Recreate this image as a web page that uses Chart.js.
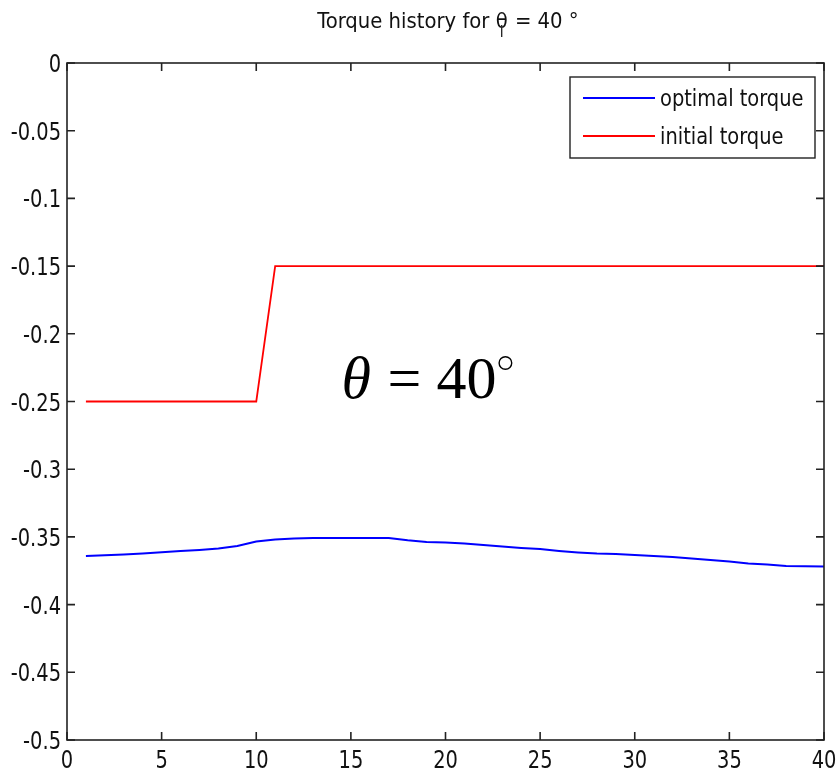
<!DOCTYPE html>
<html><head><meta charset="utf-8">
<script src="https://cdn.jsdelivr.net/npm/chart.js@4/dist/chart.umd.min.js"></script>
<style>html,body{margin:0;padding:0;background:#fff}#wrap{width:839px;height:774px}</style>
</head><body><div id="wrap"><canvas id="c" width="839" height="774"></canvas></div>
<script>
const steps = [1,2,3,4,5,6,7,8,9,10,11,12,13,14,15,16,17,18,19,20,21,22,23,24,25,26,27,28,29,30,31,32,33,34,35,36,37,38,39,40];
const optimalTorque = [-0.3641,-0.3636,-0.3630,-0.3622,-0.3614,-0.3605,-0.3596,-0.3585,-0.3567,-0.3534,-0.3520,-0.3512,-0.3508,-0.3508,-0.3508,-0.3508,-0.3508,-0.3525,-0.3538,-0.3542,-0.3549,-0.3560,-0.3571,-0.3582,-0.3590,-0.3604,-0.3615,-0.3623,-0.3626,-0.3634,-0.3641,-0.3648,-0.3660,-0.3671,-0.3682,-0.3697,-0.3704,-0.3715,-0.3717,-0.3719];
const initialTorque = [-0.25,-0.25,-0.25,-0.25,-0.25,-0.25,-0.25,-0.25,-0.25,-0.25,-0.15,-0.15,-0.15,-0.15,-0.15,-0.15,-0.15,-0.15,-0.15,-0.15,-0.15,-0.15,-0.15,-0.15,-0.15,-0.15,-0.15,-0.15,-0.15,-0.15,-0.15,-0.15,-0.15,-0.15,-0.15,-0.15,-0.15,-0.15,-0.15,-0.15];
const xTicks = [0,5,10,15,20,25,30,35,40];
const yTicks = [0,-0.05,-0.1,-0.15,-0.2,-0.25,-0.3,-0.35,-0.4,-0.45,-0.5];
const seriesNames = ['optimal torque','initial torque'];
const titleMain = 'Torque history for θ';
const titleSub = 'i';
const titleRest = ' = 40 °';
const annotation = {x: 14.5, y: -0.2474};

const FAM = '"DejaVu Sans Condensed", "DejaVu Sans", sans-serif';
function narrowText(ctx, text, x, y, size, sx, align, base) {
  ctx.save();
  ctx.font = size + 'px ' + FAM;
  ctx.textBaseline = base || 'alphabetic';
  const w = ctx.measureText(text).width * sx;
  let x0 = x;
  if (align === 'right') x0 = x - w; else if (align === 'center') x0 = x - w / 2;
  ctx.translate(x0, y);
  ctx.scale(sx, 1);
  ctx.textAlign = 'left';
  ctx.fillText(text, 0, 0);
  ctx.restore();
  return w;
}
function narrowWidth(ctx, text, size, sx) {
  ctx.save(); ctx.font = size + 'px ' + FAM;
  const w = ctx.measureText(text).width * sx; ctx.restore(); return w;
}

const matlabPlugin = {
  id: 'matlab',
  afterDraw(chart) {
    const ctx = chart.ctx, a = chart.chartArea, xs = chart.scales.x, ys = chart.scales.y;
    ctx.save();
    ctx.strokeStyle = '#222'; ctx.lineWidth = 1.6;
    ctx.strokeRect(a.left, a.top, a.right - a.left, a.bottom - a.top);
    ctx.beginPath();
    xTicks.forEach(v => { const p = xs.getPixelForValue(v);
      ctx.moveTo(p, a.bottom); ctx.lineTo(p, a.bottom - 8);
      ctx.moveTo(p, a.top); ctx.lineTo(p, a.top + 8); });
    yTicks.forEach(v => { const p = ys.getPixelForValue(v);
      ctx.moveTo(a.left, p); ctx.lineTo(a.left + 8, p);
      ctx.moveTo(a.right, p); ctx.lineTo(a.right - 8, p); });
    ctx.stroke();
    ctx.fillStyle = '#111';
    const TS = 24, TSX = 0.9;
    yTicks.forEach(v => narrowText(ctx, String(v), a.left - 6, ys.getPixelForValue(v) + 9, TS, TSX, 'right'));
    xTicks.forEach(v => narrowText(ctx, String(v), xs.getPixelForValue(v), a.bottom + 28, TS, TSX, 'center'));
    // title
    const HS = 21, HSX = 1.04;
    const wMain = narrowWidth(ctx, titleMain, HS, HSX);
    const wRest = narrowWidth(ctx, titleRest, HS, HSX);
    const cx = (a.left + a.right) / 2;
    let tx = cx - (wMain + wRest) / 2 + 2;
    narrowText(ctx, titleMain, tx, 28, HS, HSX, 'left');
    narrowText(ctx, titleSub, tx + wMain - 8, 37, 15, HSX, 'left');
    narrowText(ctx, titleRest, tx + wMain + 1, 28, HS, HSX, 'left');
    // legend
    const lx = 570, ly = 77, lw = 245, lh = 81;
    ctx.fillStyle = '#fff'; ctx.fillRect(lx, ly, lw, lh);
    ctx.strokeStyle = '#222'; ctx.lineWidth = 1.4; ctx.strokeRect(lx, ly, lw, lh);
    const colors = ['#0000ff', '#ff0000'];
    seriesNames.forEach((n, i) => {
      const yy = ly + 21 + i * 38;
      ctx.strokeStyle = colors[i]; ctx.lineWidth = 1.8;
      ctx.beginPath(); ctx.moveTo(lx + 13, yy); ctx.lineTo(lx + 85, yy); ctx.stroke();
      ctx.fillStyle = '#111'; narrowText(ctx, n, lx + 90, yy + 8, 23, 0.94, 'left');
    });
    // annotation
    const ax = xs.getPixelForValue(annotation.x), ay = ys.getPixelForValue(annotation.y);
    ctx.fillStyle = '#000'; ctx.textAlign = 'left'; ctx.textBaseline = 'alphabetic';
    ctx.font = 'italic 60px "Liberation Serif", "DejaVu Serif", serif';
    ctx.fillText('θ', ax, ay);
    ctx.font = '60px "Liberation Serif", "DejaVu Serif", serif';
    ctx.fillText('=', ax + 46, ay);
    ctx.fillText('40', ax + 95, ay);
    ctx.lineWidth = 1.4; ctx.strokeStyle = '#000';
    ctx.beginPath(); ctx.arc(ax + 164, ay - 35, 6.3, 0, Math.PI * 2); ctx.stroke();
    ctx.restore();
  }
};

new Chart(document.getElementById('c'), {
  type: 'line',
  data: {
    datasets: [
      { label: seriesNames[0], data: steps.map((s, i) => ({x: s, y: optimalTorque[i]})), borderColor: '#0000ff', borderWidth: 2, pointRadius: 0, tension: 0, fill: false },
      { label: seriesNames[1], data: steps.map((s, i) => ({x: s, y: initialTorque[i]})), borderColor: '#ff0000', borderWidth: 1.8, pointRadius: 0, tension: 0, fill: false }
    ]
  },
  options: {
    responsive: false, animation: false,
    layout: { padding: { top: 63, right: 15, left: 0, bottom: 0 } },
    plugins: { legend: { display: false }, title: { display: false }, tooltip: { enabled: false } },
    scales: {
      x: { type: 'linear', min: 0, max: 40, grid: { display: false, drawTicks: false }, border: { display: false },
           ticks: { display: false }, afterFit(s) { s.height = 34; } },
      y: { type: 'linear', min: -0.5, max: 0, grid: { display: false, drawTicks: false }, border: { display: false },
           ticks: { display: false }, afterFit(s) { s.width = 67; } }
    }
  },
  plugins: [matlabPlugin]
});
</script></body></html>
